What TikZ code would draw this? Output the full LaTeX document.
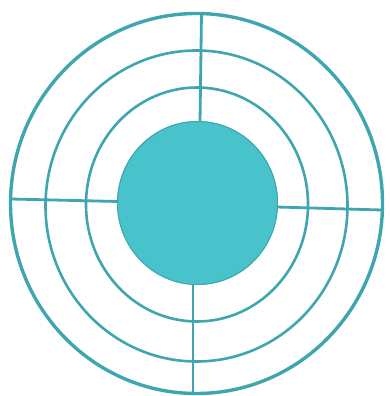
\documentclass[tikz,border=0pt]{standalone}
\begin{document}
\begin{tikzpicture}[x=1pt,y=-1pt,
  ring/.style={draw=ringc,line width=2.6pt},
  spoke/.style={draw=ringc,line width=2.8pt}]
\definecolor{ringc}{HTML}{3FA6B0}
\definecolor{corec}{HTML}{48C2CB}
\useasboundingbox (0,0) rectangle (390,396);
\draw[ring,line width=3.4pt] (196.5,203.5) ellipse [x radius=186, y radius=190];
\draw[ring] (196.5,206) ellipse [x radius=151, y radius=155.5];
\draw[ring] (197,204.5) ellipse [x radius=111, y radius=117];
\fill[corec] (197.5,203) ellipse [x radius=80.5, y radius=82];
\draw[ringc,line width=1pt] (197.5,203) ellipse [x radius=80, y radius=81.5];
\coordinate (ct) at (200,122);
\coordinate (ot) at (201.5,13);
\coordinate (cb) at (193,284);
\coordinate (ob) at (193,394);
\coordinate (cl) at (118,201.5);
\coordinate (ol) at (11,199);
\coordinate (cr) at (277,207);
\coordinate (or) at (382,210);
\draw[spoke] (ct) -- (ot);
\draw[spoke] (cb) -- (ob);
\draw[spoke] (cl) -- (ol);
\draw[spoke] (cr) -- (or);
\end{tikzpicture}
\end{document}
